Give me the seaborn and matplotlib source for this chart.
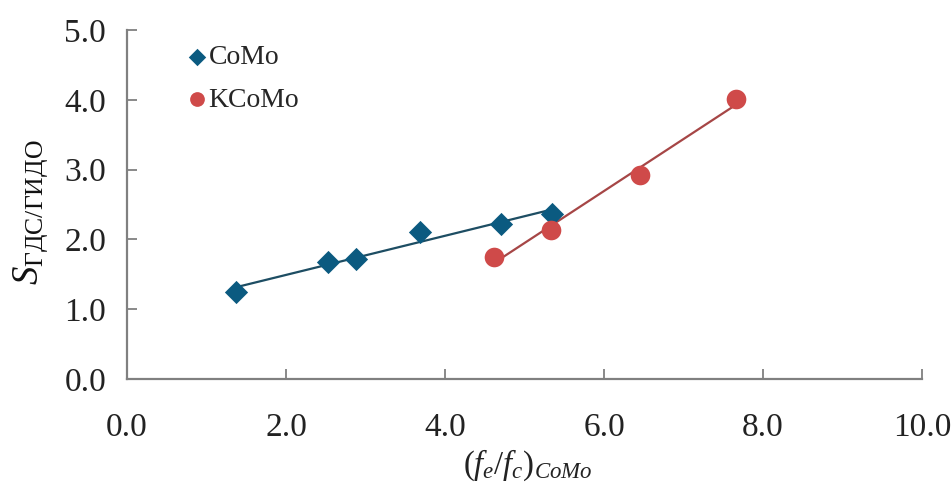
import numpy as np
import pandas as pd
import matplotlib
matplotlib.use("Agg")
import matplotlib.pyplot as plt
import seaborn as sns

# Data
como_x = [1.37, 2.53, 2.88, 3.68, 4.70, 5.34]
como_y = [1.24, 1.68, 1.72, 2.11, 2.22, 2.36]
kcomo_x = [4.61, 5.33, 6.45, 7.66]
kcomo_y = [1.75, 2.13, 2.92, 4.01]
series_names = ["CoMo", "KCoMo"]
x_ticks = [0.0, 2.0, 4.0, 6.0, 8.0, 10.0]
y_ticks = [0.0, 1.0, 2.0, 3.0, 4.0, 5.0]

sns.set_theme(style="white")
plt.rcParams["font.family"] = ["Liberation Serif", "DejaVu Serif"]
plt.rcParams["mathtext.fontset"] = "custom"
plt.rcParams["mathtext.rm"] = "Liberation Serif"
plt.rcParams["mathtext.it"] = "Liberation Serif:italic"
plt.rcParams["xtick.direction"] = "in"
plt.rcParams["ytick.direction"] = "in"

fig = plt.figure(figsize=(9.53, 4.83), dpi=100)
ax = fig.add_axes([0.1333, 0.2153, 0.8342, 0.7226])

c_como = "#0b5a80"
c_como_line = "#1d4d63"
c_k = "#cf4a49"
c_k_line = "#a64646"

df_c = pd.DataFrame({"x": como_x, "y": como_y})
df_k = pd.DataFrame({"x": kcomo_x, "y": kcomo_y})

sns.regplot(data=df_c, x="x", y="y", ax=ax, scatter=False, ci=None, truncate=True,
            line_kws=dict(color=c_como_line, lw=1.6))
sns.regplot(data=df_k, x="x", y="y", ax=ax, scatter=False, ci=None, truncate=True,
            line_kws=dict(color=c_k_line, lw=1.6))
sns.scatterplot(data=df_c, x="x", y="y", ax=ax, marker="D", s=140, color=c_como,
                edgecolor=c_como, linewidth=0, label=series_names[0], zorder=5)
sns.scatterplot(data=df_k, x="x", y="y", ax=ax, marker="o", s=200, color=c_k,
                edgecolor=c_k, linewidth=0, label=series_names[1], zorder=5)

ax.set_xlim(0, 10)
ax.set_ylim(0, 5)
ax.set_xticks(x_ticks)
ax.set_yticks(y_ticks)
ax.set_xticklabels([f"{v:.1f}" for v in x_ticks])
ax.set_yticklabels([f"{v:.1f}" for v in y_ticks])
ax.tick_params(axis="both", which="major", direction="in", length=7, width=1.3,
               color="#808080", labelsize=24, labelcolor="#222222",
               bottom=True, left=True)
ax.tick_params(axis="x", pad=24)
ax.tick_params(axis="y", pad=15)
for s in ["top", "right"]:
    ax.spines[s].set_visible(False)
for s in ["left", "bottom"]:
    ax.spines[s].set_color("#808080")
    ax.spines[s].set_linewidth(1.6)
ax.set_xlabel("")
ax.set_ylabel("")

fig.text(528 / 953, 1 - 465 / 483, r"$(f_e/f_c)_{CoMo}$", fontsize=23.5,
         color="#222222", ha="center", va="center")
fig.text(31 / 953, 1 - 212 / 483, r"$S_{\mathrm{ГДС/ГИДО}}$", fontsize=26.5,
         color="#111111", ha="center", va="center", rotation=90)

leg = ax.legend(loc="upper left", bbox_to_anchor=(0.06, 0.99), frameon=False,
                fontsize=20, handlelength=0.8, handletextpad=0.02,
                labelspacing=0.62, borderaxespad=0, markerscale=0.75)

fig.savefig("out.png", dpi=100)
